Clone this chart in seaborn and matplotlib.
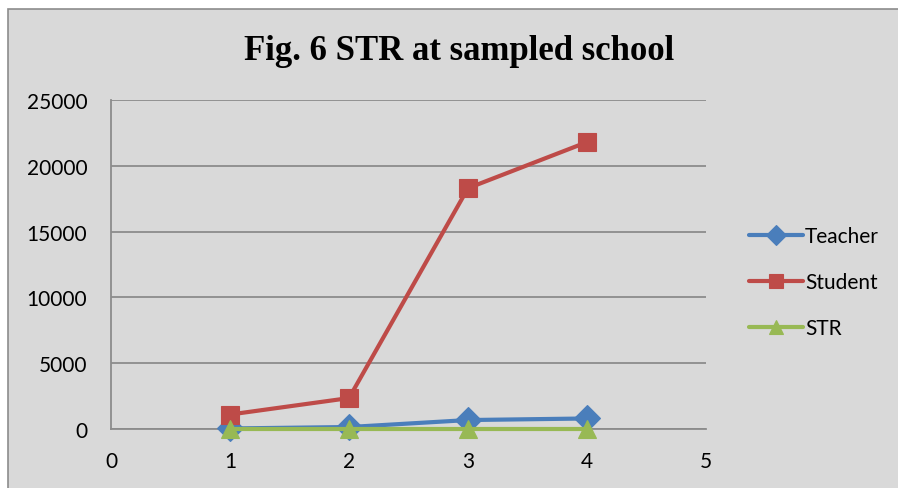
import matplotlib
matplotlib.use("Agg")
import matplotlib.pyplot as plt
from matplotlib.patches import Rectangle
import seaborn as sns
import pandas as pd

x_vals = [1, 2, 3, 4]
teacher = [40, 150, 680, 800]
student = [1100, 2350, 18300, 21800]
stris = [30, 30, 30, 30]
series_names = ["Teacher", "Student", "STR"]
colors = ["#4a7ebb", "#be4b48", "#98b954"]
y_ticks = [0, 5000, 10000, 15000, 20000, 25000]
x_ticks = [0, 1, 2, 3, 4, 5]
title = "Fig. 6 STR at sampled school"

df = pd.DataFrame({
    "x": x_vals * 3,
    "value": teacher + student + stris,
    "series": [s for s in series_names for _ in x_vals],
})

sns.set_style("white")
plt.rcParams["font.family"] = ["Lato", "DejaVu Sans"]
plt.rcParams["text.color"] = "black"

W, H = 898, 489
fig = plt.figure(figsize=(W / 100, H / 100), dpi=100, facecolor="white")
bg = Rectangle((8 / W, -0.01), 1.0, 1 - 10 / H + 0.01, transform=fig.transFigure,
               facecolor="#d9d9d9", edgecolor="#8c8c8c", linewidth=1.2, zorder=-10)
fig.patches.append(bg)

ax = fig.add_axes([111 / W, 1 - 430 / H, (706 - 111) / W, (430 - 101) / H])
ax.set_facecolor("#d9d9d9")

sns.lineplot(data=df, x="x", y="value", hue="series", style="series",
             palette=colors, hue_order=series_names, style_order=series_names,
             markers=["D", "s", "^"], dashes=False, linewidth=3.0,
             markersize=13, markeredgewidth=0.8, ax=ax, legend=True)

for i, (ln, c) in enumerate(zip(ax.lines, colors)):
    ln.set_markeredgecolor(c)
    ln.set_clip_on(False)
    ln.set_zorder(5 + i)

ax.set_xlim(0, 5)
ax.set_ylim(0, 25000)
ax.set_xticks(x_ticks)
ax.set_yticks(y_ticks)
ax.set_xticklabels([str(v) for v in x_ticks])
ax.set_yticklabels([str(v) for v in y_ticks])
ax.set_xlabel("")
ax.set_ylabel("")
ax.grid(axis="y", color="#8c8c8c", linewidth=1.3)
ax.grid(axis="x", visible=False)
ax.set_axisbelow(True)
for s in ["top", "right"]:
    ax.spines[s].set_visible(False)
for s in ["left", "bottom"]:
    ax.spines[s].set_color("#8c8c8c")
    ax.spines[s].set_linewidth(1.3)
    ax.spines[s].set_zorder(1)
ax.tick_params(axis="both", direction="out", length=6, width=1.3, color="#8c8c8c",
               labelsize=15, labelcolor="black")
ax.tick_params(axis="y", pad=11)
ax.tick_params(axis="x", pad=10)

handles, labels = ax.get_legend_handles_labels()
leg = ax.legend(handles, labels, loc="center left", bbox_to_anchor=(730 / W, 1 - 283 / H),
                bbox_transform=fig.transFigure, frameon=False, fontsize=15,
                handlelength=2.6, handletextpad=0.1, labelspacing=1.25, markerscale=0.8)
for h, c in zip(leg.legend_handles, colors):
    h.set_markeredgecolor(c)

fig.text(459 / W, 1 - 52 / H, title, ha="center", va="center", color="black",
         fontsize=25, fontweight="bold", family=["Liberation Serif", "DejaVu Serif"])

fig.savefig("out.png", dpi=100, facecolor="white")
